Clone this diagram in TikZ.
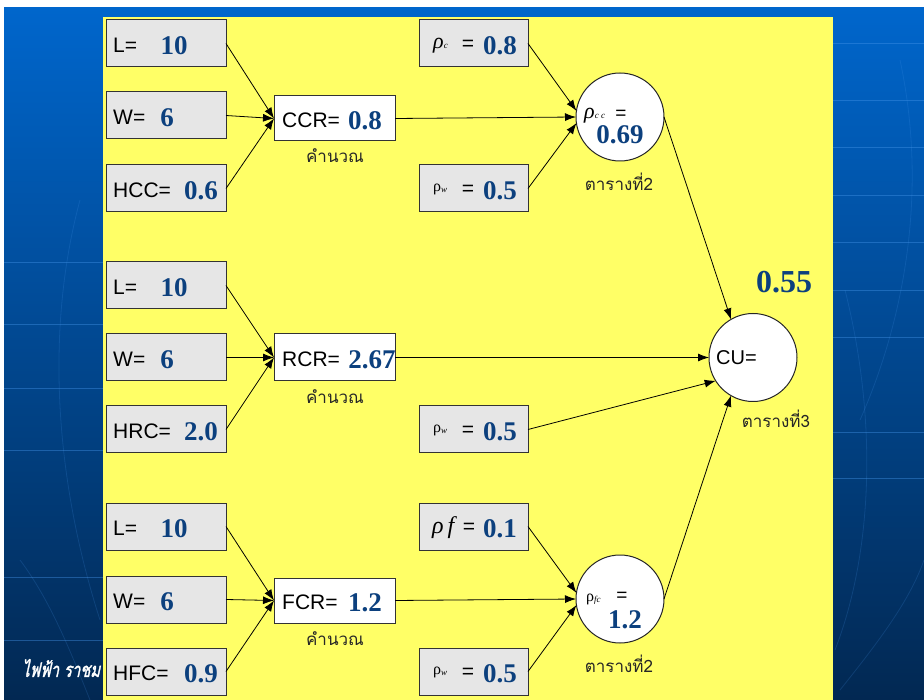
\documentclass[tikz,border=0pt]{standalone}
\usepackage{fontspec}
\setmainfont{Liberation Sans}
\newfontfamily\serifface{Liberation Serif}
\newfontfamily\thaiface[Script=Thai]{Loma}
\newfontfamily\thaislant[Script=Thai,FakeSlant=0.22,FakeBold=1.5,FakeStretch=0.74]{Loma}
\usetikzlibrary{arrows.meta}

\definecolor{valblue}{RGB}{12,64,126}
\definecolor{paper}{RGB}{255,255,102}
\definecolor{boxgray}{RGB}{230,230,230}
\definecolor{bgtop}{RGB}{0,102,204}
\definecolor{bgmid}{RGB}{0,78,156}
\definecolor{bgbot}{RGB}{2,40,82}
\definecolor{gridline}{RGB}{70,150,235}

\newcommand\valsize{\serifface\bfseries\fontsize{27}{27}\selectfont}
\newcommand\rhoit[1]{{\serifface\itshape\fontsize{22}{22}\selectfont ρ}{\serifface\itshape\fontsize{9}{9}\selectfont #1}}
\newcommand\rhoup[1]{{\serifface\fontsize{16}{16}\selectfont ρ}{\serifface\itshape\fontsize{9}{9}\selectfont\raisebox{-1.5pt}{#1}}}

\tikzset{
  gbox/.style={draw=black!80, fill=boxgray, line width=1pt, minimum width=120pt,
               minimum height=47pt, inner sep=0pt, outer sep=0pt},
  sbox/.style={gbox, minimum width=109pt},
  wbox/.style={gbox, fill=white, minimum width=121pt, minimum height=45pt},
  disc/.style={circle, draw=black!85, fill=white, line width=1pt, minimum size=88pt,
               inner sep=0pt, outer sep=0pt},
  lab/.style={anchor=west, inner sep=0pt, font=\fontsize{21}{21}\selectfont},
  eqs/.style={inner sep=0pt, font=\fontsize{21}{21}\selectfont},
  val/.style={inner sep=0pt, text=valblue, font=\valsize},
  note/.style={inner sep=0pt, font=\thaiface\fontsize{17}{17}\selectfont, text=black!85},
  arr/.style={-{Latex[length=11pt,width=8pt]}, line width=0.8pt},
  grid/.style={gridline, line width=0.8pt, opacity=0.4},
  arcline/.style={gridline, line width=0.8pt, opacity=0.18},
}

\begin{document}
\begin{tikzpicture}[x=1pt,y=-1pt]
\useasboundingbox (0,0) rectangle (924,700);
\fill[white] (0,0) rectangle (924,700);

% slide background
\shade[top color=bgtop, middle color=bgmid, bottom color=bgbot] (4,8) rectangle (924,700);
\foreach \yy in {43,100,147,195,242,290,337,432,478}
  \draw[grid] (833,\yy) -- (924,\yy);
\foreach \yy in {262,324,388,450,577,640}
  \draw[grid] (4,\yy) -- (103,\yy);
\draw[arcline] (80,200) .. controls (45,330) and (55,480) .. (100,620);
\draw[arcline] (20,560) .. controls (50,600) and (70,650) .. (90,700);
\draw[arcline] (900,60) .. controls (930,200) and (900,330) .. (860,420);
\draw[arcline] (845,290) .. controls (880,430) and (870,560) .. (835,650);
\draw[arcline] (840,690) .. controls (880,640) and (910,600) .. (924,560);

\node[anchor=west, inner sep=0pt, text=white, font=\thaislant\fontsize{20}{20}\selectfont]
  (footer) at (22,668) {ไฟฟ้า ราชม};

% working area
\fill[paper] (103,17) rectangle (833,700);

% ---- group 1 : CCR ----
\node[gbox] (L1) at (166,43.5) {};
\node[gbox] (W1) at (166,115.5) {};
\node[gbox] (H1) at (166,188.5) {};
\node[lab] (L1-l) at (113,45.5) {L=};
\node[val] (L1-v) at (174,46) {10};
\node[lab] (W1-l) at (113,117.5) {W=};
\node[val] (W1-v) at (167,118) {6};
\node[lab] (H1-l) at (113,190.5) {HCC=};
\node[val] (H1-v) at (201,191) {0.6};

\node[wbox] (CCR) at (334.5,118.5) {};
\node[lab] (CCR-l) at (282,120.5) {CCR=};
\node[val] (CCR-v) at (365,121) {0.8};
\node[note] (CCR-n) at (335,156) {คำนวณ};

\node[sbox] (rc) at (473.5,43.5) {};
\node[anchor=west, inner sep=0pt] (rc-l) at (433,46) {\rhoit{c}};
\node[eqs] (rc-e) at (468,45.5) {=};
\node[val] (rc-v) at (500,46) {0.8};

\node[sbox] (rw1) at (473.5,188.5) {};
\node[anchor=west, inner sep=0pt] (rw1-l) at (433,189) {\rhoup{w}};
\node[eqs] (rw1-e) at (468,190.5) {=};
\node[val] (rw1-v) at (500,191) {0.5};

\node[disc] (cc) at (620,117) {};
\node[anchor=west, inner sep=0pt] (cc-l) at (584,116) {\rhoit{c c}};
\node[eqs, font=\fontsize{19}{19}\selectfont] (cc-e) at (621,115) {=};
\node[val] (cc-v) at (620,135) {0.69};
\node[note] (cc-n) at (619,182) {ตารางที่2};

% ---- group 2 : RCR ----
\node[gbox] (L2) at (166,285.5) {};
\node[gbox] (W2) at (166,357.5) {};
\node[gbox] (H2) at (166,429.5) {};
\node[lab] (L2-l) at (113,287.5) {L=};
\node[val] (L2-v) at (174,288) {10};
\node[lab] (W2-l) at (113,359.5) {W=};
\node[val] (W2-v) at (167,360) {6};
\node[lab] (H2-l) at (113,431.5) {HRC=};
\node[val] (H2-v) at (201,432) {2.0};

\node[gbox, fill=white, minimum width=121pt] (RCR) at (334.5,357.5) {};
\node[lab] (RCR-l) at (282,359.5) {RCR=};
\node[val] (RCR-v) at (372,360) {2.67};
\node[note] (RCR-n) at (335,397) {คำนวณ};

\node[sbox] (rw2) at (473.5,429.5) {};
\node[anchor=west, inner sep=0pt] (rw2-l) at (433,430) {\rhoup{w}};
\node[eqs] (rw2-e) at (468,431.5) {=};
\node[val] (rw2-v) at (500,432) {0.5};

\node[disc] (cu) at (753,357.5) {};
\node[anchor=west, inner sep=0pt, font=\fontsize{20}{20}\selectfont] (cu-l) at (716,357.5) {CU=};
\node[val, font=\serifface\bfseries\fontsize{32}{32}\selectfont] (cu-v) at (784,282) {0.55};
\node[note] (cu-n) at (776,419) {ตารางที่3};

% ---- group 3 : FCR ----
\node[gbox] (L3) at (166,526.5) {};
\node[gbox] (W3) at (166,599.5) {};
\node[gbox] (H3) at (166,671.5) {};
\node[lab] (L3-l) at (113,528.5) {L=};
\node[val] (L3-v) at (174,529) {10};
\node[lab] (W3-l) at (113,601.5) {W=};
\node[val] (W3-v) at (167,602) {6};
\node[lab] (H3-l) at (113,673.5) {HFC=};
\node[val] (H3-v) at (201,674) {0.9};

\node[wbox] (FCR) at (334.5,600.5) {};
\node[lab] (FCR-l) at (282,602.5) {FCR=};
\node[val] (FCR-v) at (365,603) {1.2};
\node[note] (FCR-n) at (335,639) {คำนวณ};

\node[sbox] (rf) at (473.5,526.5) {};
\node[anchor=west, inner sep=0pt, font=\serifface\itshape\fontsize{24}{24}\selectfont] (rf-l) at (432,528) {ρ\,f};
\node[eqs] (rf-e) at (469,528.5) {=};
\node[val] (rf-v) at (500,529) {0.1};

\node[sbox] (rw3) at (473.5,671.5) {};
\node[anchor=west, inner sep=0pt] (rw3-l) at (433,672) {\rhoup{w}};
\node[eqs] (rw3-e) at (468,673.5) {=};
\node[val] (rw3-v) at (500,674) {0.5};

\node[disc] (fc) at (620,599) {};
\node[anchor=west, inner sep=0pt] (fc-l) at (586,599) {\rhoup{fc}};
\node[eqs, font=\fontsize{19}{19}\selectfont] (fc-e) at (622,597) {=};
\node[val] (fc-v) at (625,620) {1.2};
\node[note] (fc-n) at (619,664) {ตารางที่2};

% ---- connectors ----
\draw[arr] (L1.east) -- (CCR.west);
\draw[arr] (W1.east) -- (CCR.west);
\draw[arr] (H1.east) -- (CCR.west);
\draw[arr] (rc.east) -- (cc.172);
\draw[arr] (CCR.east) -- (cc.west);
\draw[arr] (rw1.east) -- (cc.188);

\draw[arr] (L2.east) -- (RCR.west);
\draw[arr] (W2.east) -- (RCR.west);
\draw[arr] (H2.east) -- (RCR.west);

\draw[arr] (L3.east) -- (FCR.west);
\draw[arr] (W3.east) -- (FCR.west);
\draw[arr] (H3.east) -- (FCR.west);
\draw[arr] (rf.east) -- (fc.172);
\draw[arr] (FCR.east) -- (fc.west);
\draw[arr] (rw3.east) -- (fc.188);

\draw[arr] (cc.east) -- (cu.120);
\draw[arr] (RCR.east) -- (cu.west);
\draw[arr] (rw2.east) -- (cu.212);
\draw[arr] (fc.east) -- (cu.240);
\end{tikzpicture}
\end{document}
